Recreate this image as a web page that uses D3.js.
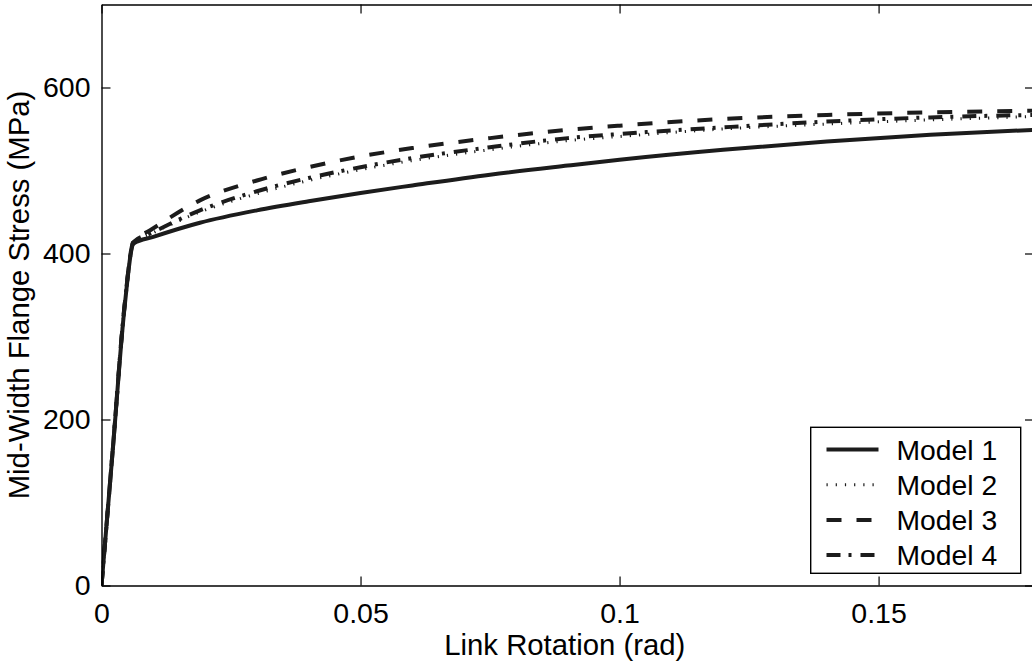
<!DOCTYPE html>
<html><head><meta charset="utf-8">
<script src="https://cdn.jsdelivr.net/npm/d3@7"></script>
<style>
html,body{margin:0;padding:0;background:#fff;}
svg{display:block;font-family:"Liberation Sans",Arial,sans-serif;}
</style></head>
<body>
<script>
// ---- data ----
const seriesNames = ["Model 1", "Model 2", "Model 3", "Model 4"];
const model1X = [0, 0.0022, 0.0044, 0.0062, 0.010, 0.019, 0.030, 0.040, 0.050, 0.060, 0.075, 0.090, 0.100, 0.120, 0.140, 0.160, 0.180];
const model1Y = [0, 165, 332, 412, 420, 437, 452, 463, 473, 482, 495, 506, 513, 525, 535, 543, 549];
const model2X = [0, 0.0022, 0.0044, 0.0062, 0.010, 0.019, 0.030, 0.040, 0.050, 0.060, 0.075, 0.090, 0.100, 0.120, 0.140, 0.160, 0.180];
const model2Y = [0, 166, 334, 413, 425, 450, 472, 488, 501, 512, 525, 536, 541, 550, 556, 561, 565];
const model3X = [0, 0.0022, 0.0044, 0.0062, 0.0094, 0.019, 0.030, 0.040, 0.050, 0.060, 0.075, 0.090, 0.100, 0.120, 0.140, 0.160, 0.180];
const model3Y = [0, 166, 334, 415, 428, 464, 488, 504, 517, 527, 539, 549, 554, 562, 567, 570, 572];
const model4X = [0, 0.0022, 0.0044, 0.0062, 0.0094, 0.019, 0.030, 0.040, 0.050, 0.060, 0.075, 0.090, 0.100, 0.120, 0.140, 0.160, 0.180];
const model4Y = [0, 166, 334, 414, 424, 452, 475, 491, 504, 515, 528, 539, 544, 552, 559, 564, 567];
const xTicks = [0, 0.05, 0.1, 0.15];
const xTickLabels = ["0", "0.05", "0.1", "0.15"];
const yTicks = [0, 200, 400, 600];
const yTickLabels = ["0", "200", "400", "600"];
const xDomain = [0, 0.18];
const yDomain = [0, 700];

// ---- layout ----
const W = 1032, H = 666;
const L = 101.5, R = 1034, T = 4.5, B = 585.5;
const dashes = ["none", "1.2,8", "15,15", "14,8,3,9"];
const widths = [4, 3, 4, 4];
const col = "#1c1c1c";

const svg = d3.select("body").append("svg").attr("width", W).attr("height", H);
const x = d3.scaleLinear().domain(xDomain).range([L, R]);
const y = d3.scaleLinear().domain(yDomain).range([B, T]);

const series = [
  {name: seriesNames[0], xs: model1X, ys: model1Y},
  {name: seriesNames[1], xs: model2X, ys: model2Y},
  {name: seriesNames[2], xs: model3X, ys: model3Y},
  {name: seriesNames[3], xs: model4X, ys: model4Y}
];

svg.append("defs").append("clipPath").attr("id","clip")
  .append("rect").attr("x", L).attr("y", T).attr("width", R-L).attr("height", B-T);

const line = d3.line().x(d => x(d[0])).y(d => y(d[1])).curve(d3.curveMonotoneX);
const g = svg.append("g").attr("clip-path","url(#clip)");
series.forEach((s, i) => {
  const pts = s.xs.map((v, j) => [v, s.ys[j]]);
  g.append("path").datum(pts).attr("d", line)
    .attr("fill","none").attr("stroke", col)
    .attr("stroke-width", widths[i])
    .attr("stroke-dasharray", dashes[i])
    .attr("stroke-linejoin","round");
});

// axes (MATLAB style box with inward ticks)
const tl = 9;
const ax = svg.append("g");
ax.append("g").attr("transform", `translate(0,${B})`)
  .call(d3.axisBottom(x).tickValues(xTicks).tickFormat((d,i)=>xTickLabels[i]).tickSizeInner(-tl).tickSizeOuter(0).tickPadding(17));
ax.append("g").attr("transform", `translate(0,${T})`)
  .call(d3.axisTop(x).tickValues(xTicks).tickFormat("").tickSizeInner(-tl).tickSizeOuter(0));
ax.append("g").attr("transform", `translate(${L},0)`)
  .call(d3.axisLeft(y).tickValues(yTicks).tickFormat((d,i)=>yTickLabels[i]).tickSizeInner(-tl).tickSizeOuter(0).tickPadding(11));
ax.append("g").attr("transform", `translate(${R},0)`)
  .call(d3.axisRight(y).tickValues(yTicks).tickFormat("").tickSizeInner(-tl).tickSizeOuter(0));
ax.selectAll(".domain").attr("stroke","#000").attr("stroke-width",1.4);
ax.selectAll(".tick line").attr("stroke","#000").attr("stroke-width",1.2);
ax.selectAll(".tick text").attr("font-size", 28.5).attr("fill","#000")
  .attr("font-family",'"Liberation Sans",Arial,sans-serif');

svg.append("text").attr("x", (L+R)/2 - 3).attr("y", 655)
  .attr("text-anchor","middle").attr("font-size",29.3).text("Link Rotation (rad)");
svg.append("text").attr("transform", `translate(29,${(T+B)/2}) rotate(-90)`)
  .attr("text-anchor","middle").attr("font-size",29.3).text("Mid-Width Flange Stress (MPa)");

// legend
const lg = svg.append("g");
lg.append("rect").attr("x",810.7).attr("y",427.3).attr("width",210).attr("height",146)
  .attr("fill","#fff").attr("stroke","#000").attr("stroke-width",1.4);
series.forEach((s,i) => {
  const yy = 449.5 + i*35.2;
  lg.append("line").attr("x1",826.5).attr("x2",878.5).attr("y1",yy).attr("y2",yy)
    .attr("stroke",col).attr("stroke-width",widths[i]).attr("stroke-dasharray",dashes[i]);
  lg.append("text").attr("x",896.5).attr("y",yy).attr("dy","0.36em")
    .attr("font-size",28.3).text(s.name);
});
</script>
</body></html>
